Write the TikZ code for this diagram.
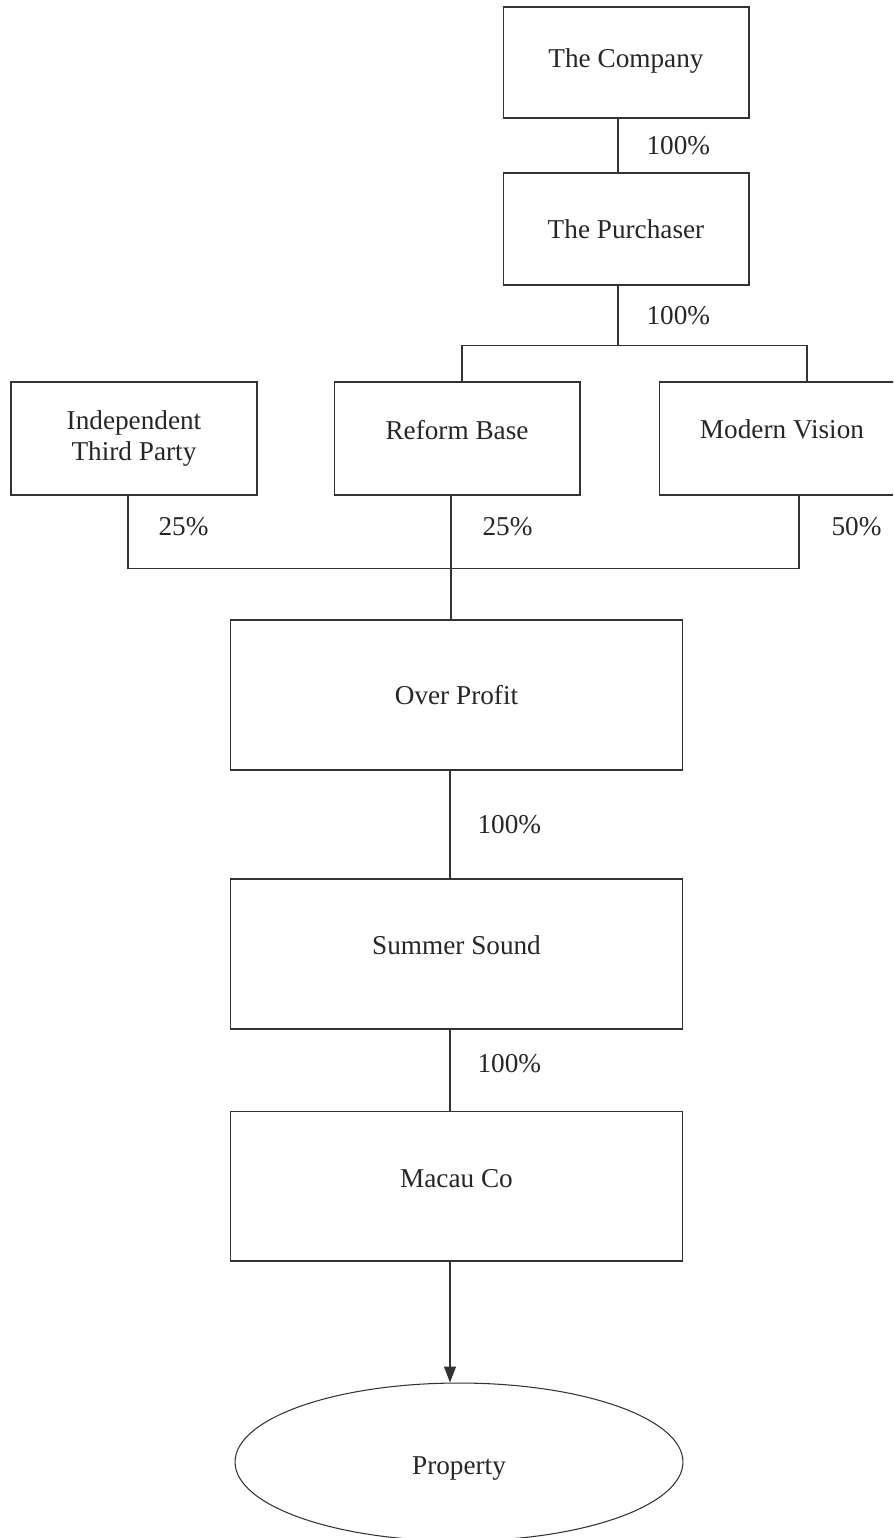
\documentclass[tikz,border=0pt]{standalone}
\usepackage{fontspec}
\setmainfont{Liberation Serif}
\usetikzlibrary{shapes.geometric,arrows.meta}

\begin{document}
\begin{tikzpicture}
			[x=0.02cm,y=-0.02cm,
			 box/.style= {font=\fontsize{15.5}{18}\selectfont,text=black!85,draw=black!80,line width=0.6pt,inner sep=0pt,align=center,minimum width=4.92cm,minimum height=2.24cm},
			 wide/.style= {box,minimum width=9.06cm,minimum height=3cm},
			 lift/.style= {text depth=#1},
			 pct/.style= {font=\fontsize{15.5}{18}\selectfont,text=black!85,inner sep=0pt,anchor=west},
			 link/.style= {draw=black!80,line width=0.6pt}]

			\useasboundingbox (0,0) rectangle (893,1538);
			\clip (0,0) rectangle (893,1538);

			% holding chain at the top
			\node[box,lift=0.16cm,minimum height=2.22cm] (company) at (626,62.5) {The Company};

			\node[box] (purchaser) at (626,229) {The Purchaser};

			\draw[link] ([xshift=-0.16cm]company.south) -- ([xshift=-0.16cm]purchaser.north)
				node[pct,midway,xshift=0.56cm] (p1) {100\%};

			% the three shareholders
			\node[box,minimum height=2.26cm] (third) at (134,438.5) {Independent\\Third Party};

			\node[box,lift=0.36cm,minimum height=2.26cm] (reform) at (457,438.5) {Reform Base};

			\node[box,lift=0.36cm,minimum height=2.26cm] (modern) at (782,438.5) {Modern Vision};

			\draw[link] ([xshift=-0.16cm]purchaser.south) -- ++(0,60) coordinate (split)
				node[pct,pos=0.5,xshift=0.56cm] (p2) {100\%};
			\draw[link] ([xshift=0.1cm]reform.north) |- (split) -| ([xshift=0.5cm]modern.north);

			\draw[link] ([xshift=-0.12cm]third.south) -- ++(0,73) coordinate (join)
				node[pct,pos=0.42,xshift=0.6cm] (p3) {25\%};
			\draw[link] (join) -| ([xshift=0.34cm]modern.south)
				node[pct,pos=0.79,xshift=0.64cm] (p5) {50\%};

			% lower chain
			\node[wide] (over) at (456.5,695) {Over Profit};

			\draw[link] ([xshift=-0.12cm]reform.south) -- ([xshift=-0.12cm]reform.south |- over.north)
				node[pct,pos=0.25,xshift=0.62cm] (p4) {25\%};

			\node[wide,lift=0.36cm] (summer) at (456.5,954) {Summer Sound};

			\draw[link] ([xshift=-0.13cm]over.south) -- ([xshift=-0.13cm]summer.north)
				node[pct,midway,xshift=0.54cm] (p6) {100\%};

			\node[wide,lift=0.32cm] (macau) at (456.5,1186) {Macau Co};

			\draw[link] ([xshift=-0.13cm]summer.south) -- ([xshift=-0.13cm]macau.north)
				node[pct,pos=0.42,xshift=0.54cm] (p7) {100\%};

			\node[box,ellipse,text height=0.62cm,minimum width=8.96cm,minimum height=3.16cm] (property) at (459,1462) {Property};

			\draw[link,-{Triangle[length=0.32cm,width=0.24cm]}] ([xshift=-0.13cm]macau.south) -- ([xshift=-0.13cm]macau.south |- property.north);

		\end{tikzpicture}
\end{document}
